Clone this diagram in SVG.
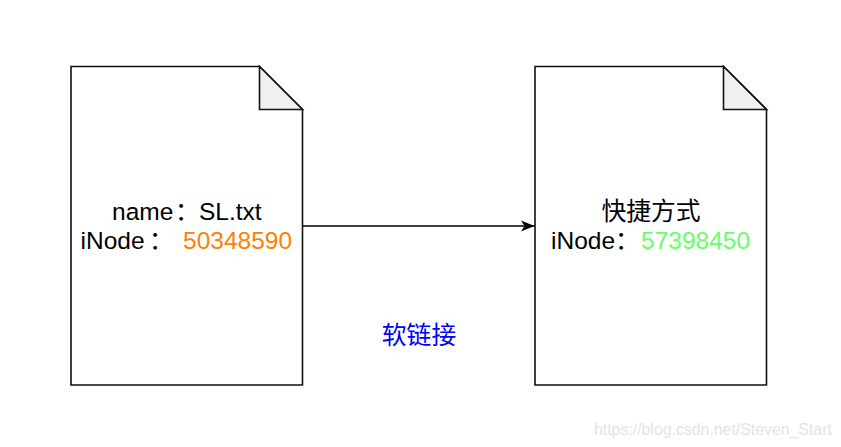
<svg xmlns="http://www.w3.org/2000/svg" width="841" height="447" viewBox="0 0 841 447">
<style>
.doc{fill:#fff;stroke:#111;stroke-width:1.6}
.fold{fill:#f0f0f0;stroke:#111;stroke-width:1.6}
.t{font-family:"Liberation Sans","Noto Sans CJK SC",sans-serif;font-size:24.500px;fill:#000}
.conn{stroke:#000;stroke-width:1.5;fill:none}
</style>
<defs><marker id="arrow" markerUnits="userSpaceOnUse" markerWidth="15" markerHeight="14" refX="14" refY="7" orient="auto"><path d="M0.500 1.500 L14 7 L0.500 12.500 L4 7 Z" fill="#000"/></marker></defs>
<rect width="841" height="447" fill="#fff"/>
<g id="node-sl">
<path class="doc" d="M71 66.500H259.500L302.500 109.500V385H71Z"/>
<path class="fold" d="M259.500 66.500V109.500H302.500Z"/>
<text class="t" x="112" y="220">name</text>
<text class="t" x="175" y="220">：</text>
<text class="t" x="199" y="220">SL.txt</text>
<text class="t" x="80.500" y="249">iNode</text>
<text class="t" x="149" y="249">：</text>
<text class="t" x="183" y="249" style="fill:#ff8000">50348590</text>
</g>
<g id="node-shortcut">
<path class="doc" d="M535 66.500H723.500L766.500 109.500V385H535Z"/>
<path class="fold" d="M723.500 66.500V109.500H766.500Z"/>
<text class="t" x="651" y="220" text-anchor="middle" style="font-size:24.800px">快捷方式</text>
<text class="t" x="551" y="249">iNode</text>
<text class="t" x="615" y="249">：</text>
<text class="t" x="641" y="249" style="fill:#66ff66">57398450</text>
</g>
<g id="connectors">
<path class="conn" d="M302.500 226H534.500" marker-end="url(#arrow)"/>
</g>
<text id="label" class="t" x="419" y="344" text-anchor="middle" style="fill:#0000ff;font-size:24.800px">软链接</text>
<text id="watermark" x="594" y="435" font-family="'Liberation Sans',sans-serif" font-size="15.850px" fill="#e4e4e4">https://blog.csdn.net/Steven_Start</text>
</svg>
